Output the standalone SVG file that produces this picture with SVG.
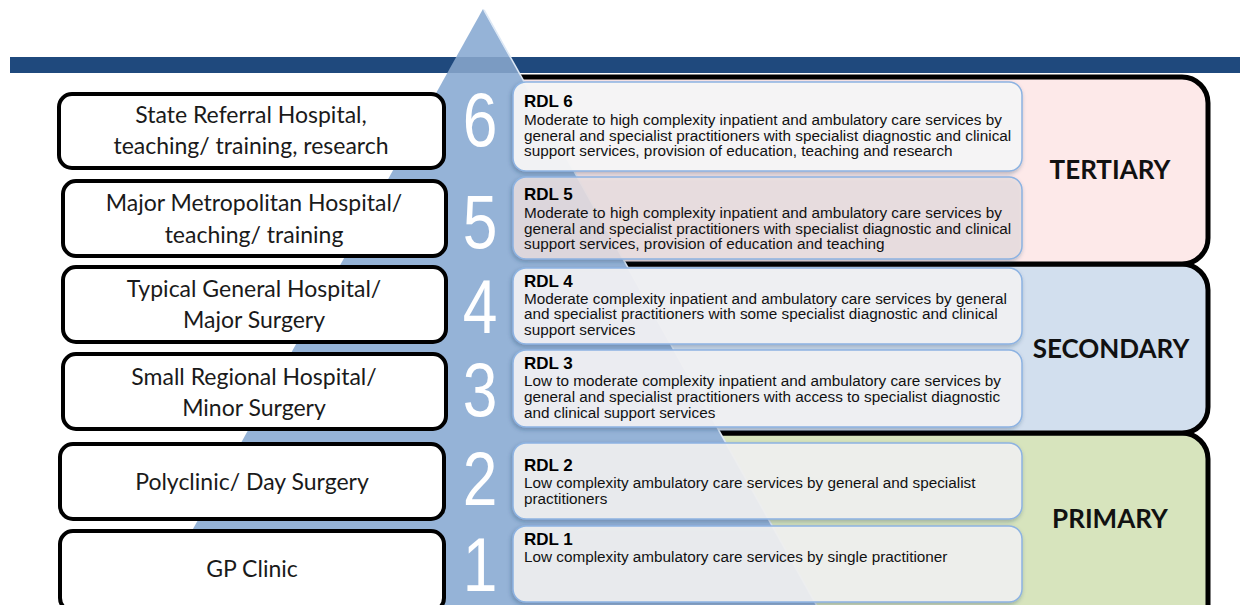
<svg xmlns="http://www.w3.org/2000/svg" width="1240" height="605" viewBox="0 0 1240 605">
<style>
.lbox{fill:#fff;stroke:#000;stroke-width:4}
.ltxt{font-family:Lato,"Open Sans",sans-serif;font-size:23px;fill:#1a1a1a;text-anchor:middle}
.tier{stroke:#000;stroke-width:5}
.tlab{font-family:Lato,"Liberation Sans",sans-serif;font-weight:700;font-size:26px;fill:#111;text-anchor:middle}
.rdl{stroke:#8db3e2;stroke-width:1.5;filter:url(#sh)}
.rt{font-family:"Liberation Sans",Arial,sans-serif;font-weight:700;font-size:17px;fill:#000}
.rb{font-family:"Liberation Sans",Arial,sans-serif;font-size:15.3px;fill:#111}
.num{font-family:"Liberation Sans",Arial,sans-serif;font-size:76px;fill:#fff;text-anchor:middle}
</style>
<defs>
<filter id="sh" x="-5%" y="-10%" width="110%" height="130%">
<feDropShadow dx="-1" dy="2" stdDeviation="2" flood-color="#1f3a5f" flood-opacity="0.35"/>
</filter>
</defs>
<rect width="1240" height="605" fill="#fff"/>
<rect id="bar" x="10" y="57" width="1230" height="16" fill="#1F497D"/>
<g id="tiers">
<g id="primary"><rect class="tier" x="490" y="433" width="718" height="200" rx="26" fill="#d7e4bd"/></g>
<g id="secondary"><rect class="tier" x="490" y="264" width="718" height="169" rx="26" fill="#d2dfee"/></g>
<g id="tertiary"><rect class="tier" x="490" y="77" width="718" height="187" rx="26" fill="#fde9e9"/></g>
</g>
<g id="pyramid">
<polygon points="483,9 145,615 822,615" fill="#95b3d7"/>
<polygon points="456,57 510,57 519,73 447,73" fill="#1F497D" opacity="0.22"/>
<line x1="484" y1="10" x2="822" y2="615" stroke="#dde8f5" stroke-width="1.6"/>
</g>
<g id="tier-labels">
<text class="tlab" x="1110" y="179">TERTIARY</text>
<text class="tlab" x="1111" y="358">SECONDARY</text>
<text class="tlab" x="1110" y="528">PRIMARY</text>
</g>
<g id="connectors"></g>
<g id="rdl6"><rect class="rdl" x="513" y="82" width="509" height="89" rx="13" fill="#f7f7f7" fill-opacity="0.95"/>
<text class="rt" x="524" y="107">RDL 6</text>
<text class="rb" x="524" y="125">Moderate to high complexity inpatient and ambulatory care services by</text>
<text class="rb" x="524" y="141">general and specialist practitioners with specialist diagnostic and clinical</text>
<text class="rb" x="524" y="156">support services, provision of education, teaching and research</text></g>
<g id="rdl5"><rect class="rdl" x="513" y="177" width="509" height="82" rx="13" fill="#eadfe0" fill-opacity="0.85"/>
<text class="rt" x="524" y="200">RDL 5</text>
<text class="rb" x="524" y="218">Moderate to high complexity inpatient and ambulatory care services by</text>
<text class="rb" x="524" y="234">general and specialist practitioners with specialist diagnostic and clinical</text>
<text class="rb" x="524" y="249">support services, provision of education and teaching</text></g>
<g id="rdl4"><rect class="rdl" x="513" y="268" width="509" height="76" rx="13" fill="#f2f2f4" fill-opacity="0.92"/>
<text class="rt" x="524" y="287">RDL 4</text>
<text class="rb" x="524" y="304">Moderate complexity inpatient and ambulatory care services by general</text>
<text class="rb" x="524" y="319">and specialist practitioners with some specialist diagnostic and clinical</text>
<text class="rb" x="524" y="335">support services</text></g>
<g id="rdl3"><rect class="rdl" x="513" y="350" width="509" height="77" rx="13" fill="#f2f2f4" fill-opacity="0.92"/>
<text class="rt" x="524" y="369">RDL 3</text>
<text class="rb" x="524" y="386">Low to moderate complexity inpatient and ambulatory care services by</text>
<text class="rb" x="524" y="402">general and specialist practitioners with access to specialist diagnostic</text>
<text class="rb" x="524" y="418">and clinical support services</text></g>
<g id="rdl2"><rect class="rdl" x="513" y="443" width="509" height="76" rx="13" fill="#f2f2f2" fill-opacity="0.9"/>
<text class="rt" x="524" y="471">RDL 2</text>
<text class="rb" x="524" y="488">Low complexity ambulatory care services by general and specialist</text>
<text class="rb" x="524" y="504">practitioners</text></g>
<g id="rdl1"><rect class="rdl" x="513" y="526" width="509" height="76" rx="13" fill="#f2f2f2" fill-opacity="0.9"/>
<text class="rt" x="524" y="545">RDL 1</text>
<text class="rb" x="524" y="562">Low complexity ambulatory care services by single practitioner</text></g>
<g id="numbers">
<text class="num" transform="translate(480,146) scale(0.82,1)">6</text>
<text class="num" transform="translate(480,248) scale(0.82,1)">5</text>
<text class="num" transform="translate(480,333) scale(0.82,1)">4</text>
<text class="num" transform="translate(480,416) scale(0.82,1)">3</text>
<text class="num" transform="translate(480,505) scale(0.82,1)">2</text>
<text class="num" transform="translate(480,591) scale(0.82,1)">1</text>
</g>
<g id="box6"><rect class="lbox" x="59" y="94" width="385" height="74" rx="13"/>
<text class="ltxt" x="251" y="123">State Referral Hospital,</text>
<text class="ltxt" x="251" y="154">teaching/ training, research</text></g>
<g id="box5"><rect class="lbox" x="63" y="181" width="383" height="75" rx="13"/>
<text class="ltxt" x="254" y="211">Major Metropolitan Hospital/</text>
<text class="ltxt" x="254" y="243">teaching/ training</text></g>
<g id="box4"><rect class="lbox" x="63" y="267" width="383" height="75" rx="13"/>
<text class="ltxt" x="254" y="297">Typical General Hospital/</text>
<text class="ltxt" x="254" y="328">Major Surgery</text></g>
<g id="box3"><rect class="lbox" x="63" y="354" width="383" height="75" rx="13"/>
<text class="ltxt" x="254" y="385">Small Regional Hospital/</text>
<text class="ltxt" x="254" y="416">Minor Surgery</text></g>
<g id="box2"><rect class="lbox" x="60" y="444" width="384" height="75" rx="13"/>
<text class="ltxt" x="252" y="490">Polyclinic/ Day Surgery</text></g>
<g id="box1"><rect class="lbox" x="60" y="531" width="384" height="80" rx="13"/>
<text class="ltxt" x="252" y="577">GP Clinic</text></g>
</svg>
